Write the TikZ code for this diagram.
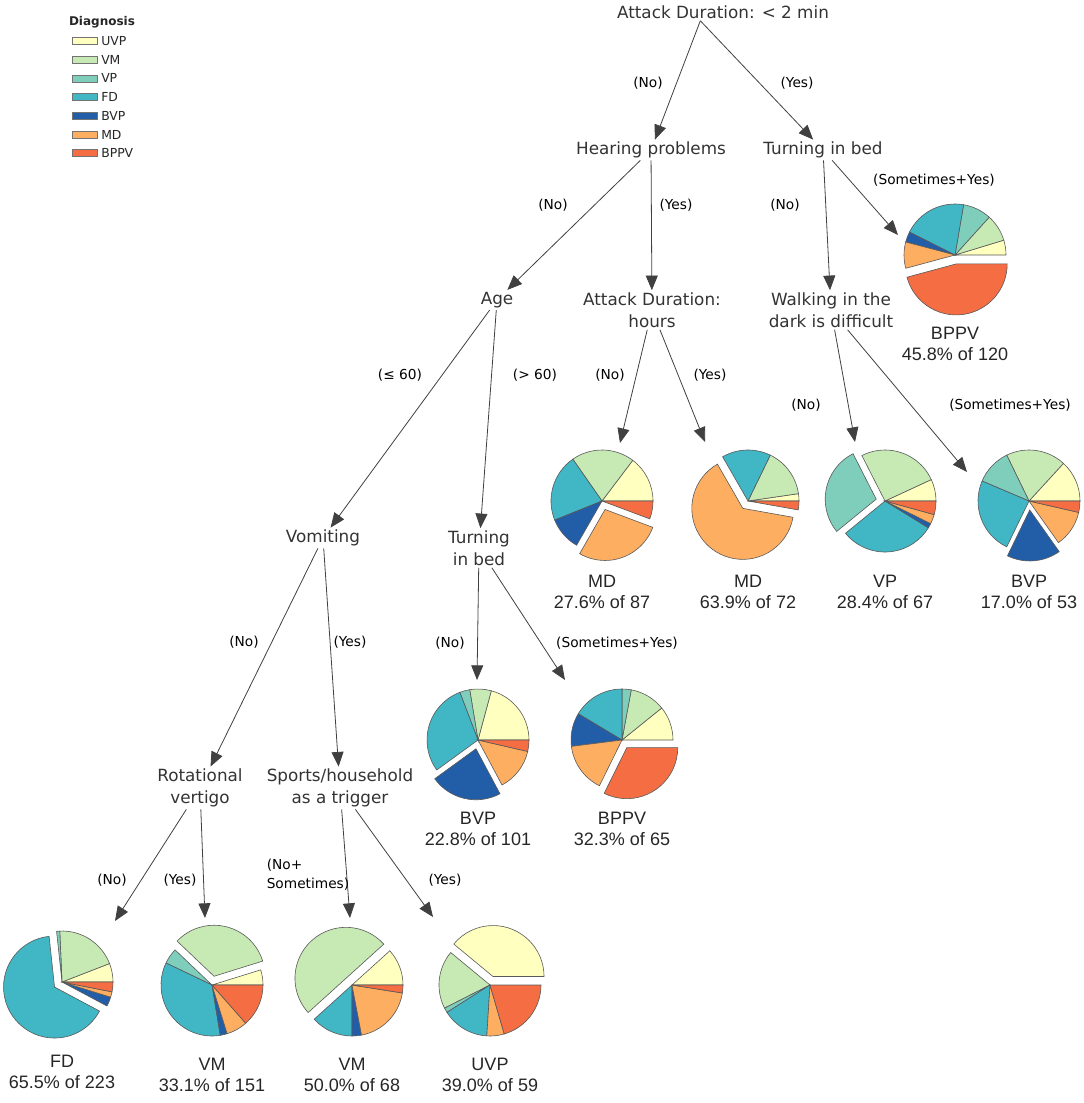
\documentclass[tikz,border=0pt]{standalone}
\usepackage{fontspec}
\setmainfont{DejaVu Sans}
\newfontfamily\leaffont{Liberation Sans}
\usetikzlibrary{arrows.meta,calc}

\definecolor{uvp}{HTML}{FFFFBF}
\definecolor{vm}{HTML}{C7E9B4}
\definecolor{vp}{HTML}{7FCDBB}
\definecolor{fd}{HTML}{41B6C4}
\definecolor{bvp}{HTML}{225EA8}
\definecolor{md}{HTML}{FDAE61}
\definecolor{bppv}{HTML}{F46D43}
\definecolor{nodetext}{HTML}{333333}

\tikzset{
  decision/.style={font=\fontsize{12.6}{16.5}\selectfont, text=nodetext, align=center, inner sep=1.5pt},
  answer/.style={font=\fontsize{10.3}{14.2}\selectfont, align=center, inner sep=0pt},
  leaflabel/.style={font=\leaffont\fontsize{13.5}{15.8}\selectfont, text=black!85, align=center},
  branch/.style={draw=black!75, line width=0.6pt, -{Triangle[length=11pt,width=9pt]}},
  pieline/.style={draw=black!65, line width=0.45pt},
  legendbox/.style={draw=black!55, line width=0.5pt},
  legendtext/.style={font=\fontsize{9.3}{11}\selectfont, text=black!85, inner sep=0pt, anchor=west},
}

% pie: #1 = centre, #2 = list of percent/colour/explode
\newcommand{\pierad}{38.25pt}
\newcommand{\piechart}[2]{%
  \xdef\piecum{0}%
  \foreach \pv/\pc/\px in {#2} {
    \pgfmathsetmacro\slA{\piecum}
    \pgfmathsetmacro\slB{\piecum+3.6*\pv}
    \pgfmathsetmacro\slM{(\slA+\slB)/2}
    \draw[pieline,fill=\pc] ($(#1)+(\slM:\px*0.75pt)$) -- ++(\slA:\pierad)
      arc[start angle=\slA, end angle=\slB, radius=\pierad] -- cycle;
    \xdef\piecum{\slB}
  }%
}

\begin{document}
\begin{tikzpicture}[x=0.75pt,y=-0.75pt]
    \useasboundingbox (0,0) rectangle (1084,1103);

    % Legend
    \node[font=\fontsize{9}{11}\selectfont\bfseries, text=black!85] (legtitle) at (102,22) {Diagnosis};
    \foreach \lab/\col [count=\i] in {UVP/uvp,VM/vm,VP/vp,FD/fd,BVP/bvp,MD/md,BPPV/bppv} {
        \draw[legendbox,fill=\col] (72,{41+18.7*(\i-1)-3.5}) rectangle ++(25,7);
        \node[legendtext] (leg\i) at (101,{41+18.7*(\i-1)}) {\lab};
    }

    % Decision nodes
    \node[decision] (root) at (723,12) {Attack Duration: < 2 min};
    \node[decision] (hear) at (651,150) {Hearing problems};
    \node[decision] (turnA) at (823,150) {Turning in bed};
    \node[decision] (age) at (497,300) {Age};
    \node[decision] (atth) at (652,310) {Attack Duration:\\hours};
    \node[decision] (walk) at (831,310) {Walking in the\\dark is difficult};
    \node[decision] (vomit) at (323,538) {Vomiting};
    \node[decision] (turnB) at (479,548) {Turning\\in bed};
    \node[decision] (rot) at (200,788) {Rotational\\vertigo};
    \node[decision] (sports) at (340,788) {Sports/household\\as a trigger};

    % Pie centres and arrow tips
    \coordinate (pBPPVa) at (955,255);  \coordinate (tBPPVa) at (898,235);
    \coordinate (pMDa) at (602,501);    \coordinate (tMDa) at (620,443);
    \coordinate (pMDb) at (748,501);    \coordinate (tMDb) at (705,442);
    \coordinate (pVP) at (885,501);     \coordinate (tVP) at (855,442);
    \coordinate (pBVPa) at (1029,501);  \coordinate (tBVPa) at (967,472);
    \coordinate (pBVPb) at (478,740);   \coordinate (tBVPb) at (477,680);
    \coordinate (pBPPVb) at (622,740);  \coordinate (tBPPVb) at (565,680);
    \coordinate (pFD) at (62,982);      \coordinate (tFD) at (115,921);
    \coordinate (pVMa) at (212,985);    \coordinate (tVMa) at (205,918);
    \coordinate (pVMb) at (352,985);    \coordinate (tVMb) at (350,918);
    \coordinate (pUVP) at (490,985);    \coordinate (tUVP) at (433,917);

    % Branches
    \draw[branch] ([xshift=-17pt]root.south) -- (hear);
    \draw[branch] ([xshift=-17pt]root.south) -- (turnA);
    \draw[branch] (hear) -- (age);
    \draw[branch] (hear) -- (atth);
    \draw[branch] (turnA) -- (walk);
    \draw[branch] (turnA) -- (tBPPVa);
    \draw[branch] (age) -- (vomit);
    \draw[branch] (age) -- (turnB);
    \draw[branch] (atth) -- (tMDa);
    \draw[branch] (atth) -- (tMDb);
    \draw[branch] (walk) -- (tVP);
    \draw[branch] (walk) -- (tBVPa);
    \draw[branch] (vomit) -- (rot);
    \draw[branch] (vomit) -- (sports);
    \draw[branch] (turnB) -- (tBVPb);
    \draw[branch] (turnB) -- (tBPPVb);
    \draw[branch] (rot) -- (tFD);
    \draw[branch] (rot) -- (tVMa);
    \draw[branch] (sports) -- (tVMb);
    \draw[branch] (sports) -- (tUVP);

    % Branch answers
    \node[answer] (a1) at (648,83) {(No)};
    \node[answer] (a2) at (797,83) {(Yes)};
    \node[answer] (a3) at (553,205) {(No)};
    \node[answer] (a4) at (676,205) {(Yes)};
    \node[answer] (a5) at (785,205) {(No)};
    \node[answer] (a6) at (934,180) {(Sometimes+Yes)};
    \node[answer] (a7) at (400,375) {(≤ 60)};
    \node[answer] (a8) at (535,375) {(> 60)};
    \node[answer] (a9) at (610,375) {(No)};
    \node[answer] (a10) at (710,375) {(Yes)};
    \node[answer] (a11) at (806,405) {(No)};
    \node[answer] (a12) at (1010,405) {(Sometimes+Yes)};
    \node[answer] (a13) at (244,642) {(No)};
    \node[answer] (a14) at (350,642) {(Yes)};
    \node[answer] (a15) at (450,643) {(No)};
    \node[answer] (a16) at (617,643) {(Sometimes+Yes)};
    \node[answer] (a17) at (112,880) {(No)};
    \node[answer] (a18) at (180,880) {(Yes)};
    \node[answer,align=left] (a19) at (308,875) {(No+\\Sometimes)};
    \node[answer] (a20) at (445,880) {(Yes)};

    % Leaf pies (UVP, VM, VP, FD, BVP, MD, BPPV)
    \piechart{pBPPVa}{4.7/uvp/0, 8.6/vm/0, 9/vp/0, 20.3/fd/0, 3.3/bvp/0, 8.3/md/0, 45.8/bppv/9}
    \piechart{pMDa}{14.7/uvp/0, 20/vm/0, 21.4/fd/0, 10.6/bvp/0, 27.6/md/9, 5.7/bppv/0}
    \piechart{pMDb}{2.3/uvp/0, 15.5/vm/0, 15.5/fd/0, 63.9/md/9, 2.8/bppv/0}
    \piechart{pVP}{6.9/uvp/0, 25.6/vm/0, 28.4/vp/9, 30.3/fd/0, 1.5/bvp/0, 3.0/md/0, 4.3/bppv/0}
    \piechart{pBVPa}{13.2/uvp/0, 19/vm/0, 11.4/vp/0, 24.2/fd/0, 17/bvp/9, 11.6/md/0, 3.6/bppv/0}
    \piechart{pBVPb}{20.8/uvp/0, 6.8/vm/0, 3.2/vp/0, 29.2/fd/0, 22.8/bvp/9, 13.6/md/0, 3.6/bppv/0}
    \piechart{pBPPVb}{10.8/uvp/0, 11.3/vm/0, 2.9/vp/0, 16.4/fd/0, 10.6/bvp/0, 15.7/md/0, 32.3/bppv/9}
    \piechart{pFD}{5.9/uvp/0, 19.8/vm/0, 1/vp/0, 65.5/fd/9, 3/bvp/0, 1.7/md/0, 3.1/bppv/0}
    \piechart{pVMa}{4.8/uvp/0, 33.1/vm/9, 5/vp/0, 34.7/fd/0, 2.2/bvp/0, 6.7/md/0, 13.5/bppv/0}
    \piechart{pVMb}{11.7/uvp/0, 50/vm/9, 13.3/fd/0, 3/bvp/0, 19.5/md/0, 2.5/bppv/0}
    \piechart{pUVP}{39/uvp/9, 18.5/vm/0, 1.5/vp/0, 15/fd/0, 5.5/md/0, 20.5/bppv/0}

    % Leaf labels
    \node[leaflabel] (lBPPVa) at ($(pBPPVa)+(0,89)$) {BPPV\\45.8\% of 120};
    \node[leaflabel] (lMDa) at ($(pMDa)+(0,91)$) {MD\\27.6\% of 87};
    \node[leaflabel] (lMDb) at ($(pMDb)+(0,91)$) {MD\\63.9\% of 72};
    \node[leaflabel] (lVP) at ($(pVP)+(0,91)$) {VP\\28.4\% of 67};
    \node[leaflabel] (lBVPa) at ($(pBVPa)+(0,91)$) {BVP\\17.0\% of 53};
    \node[leaflabel] (lBVPb) at ($(pBVPb)+(0,89)$) {BVP\\22.8\% of 101};
    \node[leaflabel] (lBPPVb) at ($(pBPPVb)+(0,89)$) {BPPV\\32.3\% of 65};
    \node[leaflabel] (lFD) at ($(pFD)+(0,90)$) {FD\\65.5\% of 223};
    \node[leaflabel] (lVMa) at ($(pVMa)+(0,90)$) {VM\\33.1\% of 151};
    \node[leaflabel] (lVMb) at ($(pVMb)+(0,90)$) {VM\\50.0\% of 68};
    \node[leaflabel] (lUVP) at ($(pUVP)+(0,90)$) {UVP\\39.0\% of 59};

\end{tikzpicture}
\end{document}
